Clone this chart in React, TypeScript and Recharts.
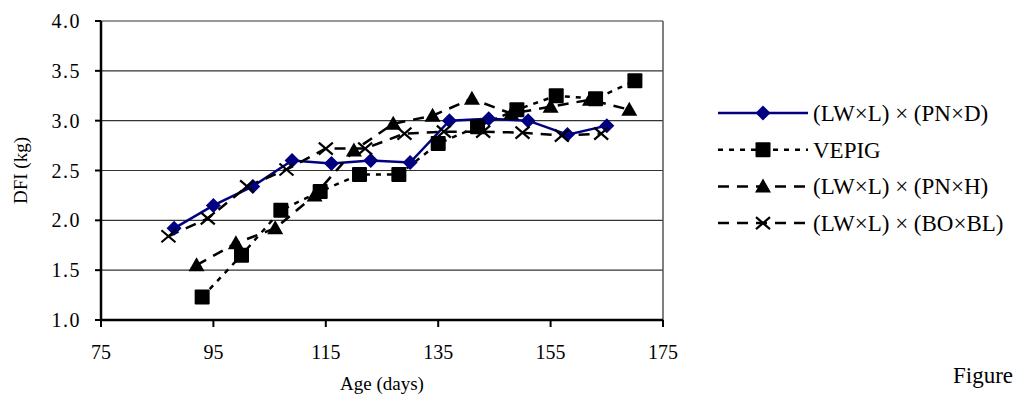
import React from "react";
import { LineChart, Line, XAxis, YAxis, CartesianGrid, ReferenceLine } from "recharts";

// Axis ticks
const xTicks = [75, 95, 115, 135, 155, 175];
const yTicks = [1.0, 1.5, 2.0, 2.5, 3.0, 3.5, 4.0];

// Age (days) / DFI (kg) per cross
const pnDAge = [88, 95, 102, 109, 116, 123, 130, 137, 144, 151, 158, 165];
const pnDDfi = [1.92, 2.15, 2.34, 2.6, 2.57, 2.6, 2.58, 3.0, 3.02, 3.0, 2.86, 2.95];

const vepigAge = [93, 100, 107, 114, 121, 128, 135, 142, 149, 156, 163, 170];
const vepigDfi = [1.23, 1.65, 2.1, 2.29, 2.46, 2.46, 2.77, 2.94, 3.11, 3.25, 3.22, 3.4];

const pnHAge = [92, 99, 106, 113, 120, 127, 134, 141, 148, 155, 162, 169];
const pnHDfi = [1.55, 1.77, 1.92, 2.25, 2.7, 2.97, 3.05, 3.22, 3.07, 3.14, 3.21, 3.11];

const boBlAge = [87, 94, 101, 108, 115, 122, 129, 136, 143, 150, 157, 164];
const boBlDfi = [1.84, 2.02, 2.34, 2.51, 2.72, 2.72, 2.87, 2.89, 2.89, 2.88, 2.85, 2.87];

type Shape = "diamond" | "square" | "triangle" | "cross";

interface SeriesDef {
  name: string;
  ages: number[];
  dfi: number[];
  color: string;
  width: number;
  dash?: string;
  shape: Shape;
}

const SERIES: SeriesDef[] = [
  { name: "(LW×L) × (PN×D)", ages: pnDAge, dfi: pnDDfi, color: "#000080", width: 2.5, shape: "diamond" },
  { name: "VEPIG", ages: vepigAge, dfi: vepigDfi, color: "#000", width: 2.5, dash: "5 6", shape: "square" },
  { name: "(LW×L) × (PN×H)", ages: pnHAge, dfi: pnHDfi, color: "#000", width: 2.5, dash: "11 8", shape: "triangle" },
  { name: "(LW×L) × (BO×BL)", ages: boBlAge, dfi: boBlDfi, color: "#000", width: 2.5, dash: "11 8", shape: "cross" },
];

const FONT = "Liberation Serif";

function Marker({ shape, cx, cy, color }: { shape: Shape; cx: number; cy: number; color: string }) {
  if (shape === "diamond") {
    return <polygon points={`${cx},${cy - 7.5} ${cx + 7.5},${cy} ${cx},${cy + 7.5} ${cx - 7.5},${cy}`} fill={color} />;
  }
  if (shape === "square") {
    return <rect x={cx - 7.5} y={cy - 7.5} width={15} height={15} rx={1} fill={color} />;
  }
  if (shape === "triangle") {
    return <polygon points={`${cx},${cy - 8} ${cx + 8},${cy + 6} ${cx - 8},${cy + 6}`} fill={color} />;
  }
  return (
    <g stroke={color} strokeWidth={2.2}>
      <line x1={cx - 7} y1={cy - 6} x2={cx + 7} y2={cy + 6} />
      <line x1={cx - 7} y1={cy + 6} x2={cx + 7} y2={cy - 6} />
    </g>
  );
}

function LegendOverlay() {
  return (
    <svg width={1018} height={398} style={{ position: "absolute", left: 0, top: 0, pointerEvents: "none" }}>
      {SERIES.map((s, i) => {
        const y = 113 + i * 36.7;
        return (
          <g key={s.name}>
            <line x1={718} y1={y} x2={808} y2={y} stroke={s.color} strokeWidth={s.width} strokeDasharray={s.dash} />
            <Marker shape={s.shape} cx={763} cy={y} color={s.color} />
            <text x={813} y={y + 8} style={{ fontFamily: FONT, fontSize: 23 }} fill="#000">
              {s.name}
            </text>
          </g>
        );
      })}
      <text x={953} y={383} style={{ fontFamily: FONT, fontSize: 23 }} fill="#000">
        Figure
      </text>
    </svg>
  );
}

export default function App() {
  return (
    <div style={{ position: "absolute", left: 0, top: 0, width: 1018, height: 398, background: "#fff", fontFamily: FONT }}>
      <LineChart width={1018} height={398} margin={{ top: 21, right: 355, bottom: 8, left: 0 }}>
        <CartesianGrid vertical={false} stroke="#333" strokeWidth={1.2} />
        <XAxis
          type="number"
          dataKey="age"
          domain={[75, 175]}
          ticks={xTicks}
          allowDuplicatedCategory={false}
          height={70}
          tickSize={7}
          tickMargin={18}
          tick={{ fill: "#000", fontSize: 20, style: { fontFamily: FONT } }}
          axisLine={{ stroke: "#000", strokeWidth: 2.5 }}
          tickLine={{ stroke: "#000", strokeWidth: 2 }}
          label={{ value: "Age (days)", position: "insideBottom", offset: 0, fill: "#000", fontSize: 19, style: { fontFamily: FONT } }}
        />
        <YAxis
          type="number"
          domain={[1, 4]}
          ticks={yTicks}
          width={101}
          tickSize={6}
          tickMargin={14}
          tickFormatter={(v: number) => v.toFixed(1)}
          tick={{ fill: "#000", fontSize: 20, letterSpacing: 1.5, style: { fontFamily: FONT } }}
          axisLine={{ stroke: "#000", strokeWidth: 2.5 }}
          tickLine={{ stroke: "#000", strokeWidth: 2 }}
          label={{ value: "DFI (kg)", angle: -90, position: "insideLeft", offset: 20, fill: "#000", fontSize: 19, style: { textAnchor: "middle", fontFamily: FONT } }}
        />
        <ReferenceLine x={175} stroke="#555" strokeWidth={1.5} />
        {SERIES.map((s) => (
          <Line
            key={s.name}
            name={s.name}
            data={s.ages.map((age, i) => ({ age, dfi: s.dfi[i] }))}
            dataKey="dfi"
            type="linear"
            stroke={s.color}
            strokeWidth={s.width}
            strokeDasharray={s.dash}
            isAnimationActive={false}
            dot={(p: any) => <Marker key={`${s.shape}-${p.index}`} shape={s.shape} cx={p.cx} cy={p.cy} color={s.color} />}
            activeDot={false}
          />
        ))}
      </LineChart>
      <LegendOverlay />
    </div>
  );
}
